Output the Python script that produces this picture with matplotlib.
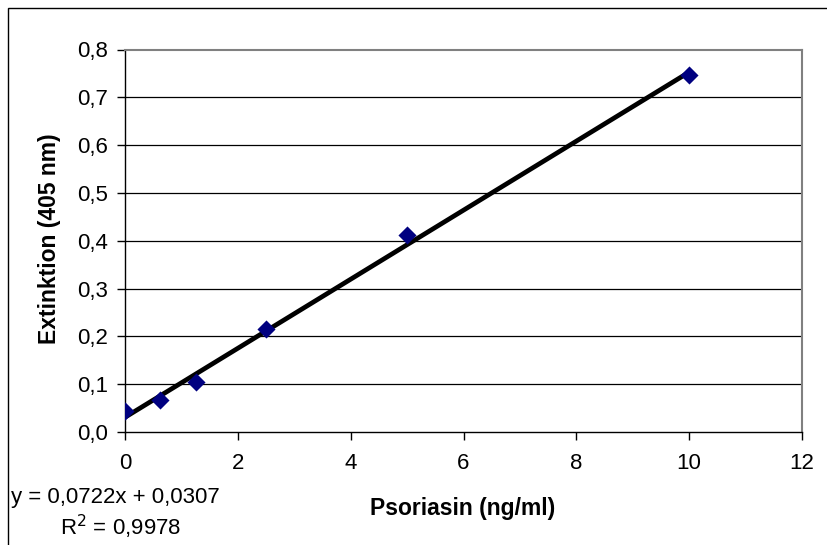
import matplotlib
matplotlib.use("Agg")
import matplotlib.pyplot as plt
from matplotlib.patches import Rectangle
import numpy as np

plt.rcParams['font.family'] = ['Liberation Sans', 'DejaVu Sans']

conc = [0, 0.625, 1.25, 2.5, 5, 10]
extinction = [0.043, 0.066, 0.104, 0.216, 0.411, 0.746]
slope = 0.0722
intercept = 0.0307
eq_text = "y = 0,0722x + 0,0307"
r2_text = "R$^2$ = 0,9978"
xticks = [0, 2, 4, 6, 8, 10, 12]
yticks = [0.0, 0.1, 0.2, 0.3, 0.4, 0.5, 0.6, 0.7, 0.8]
ytick_labels = ["0,0", "0,1", "0,2", "0,3", "0,4", "0,5", "0,6", "0,7", "0,8"]

W, H = 827, 545
fig = plt.figure(figsize=(W / 100, H / 100), dpi=100)
fig.patch.set_facecolor('white')

# outer chart frame (top and left edges visible)
fig.patches.append(Rectangle((8 / W, -0.1), 1.2, 1 - 8 / H + 0.1, transform=fig.transFigure,
                             fill=False, edgecolor='black', linewidth=1.0))

ax = fig.add_axes([125 / W, 1 - 432 / H, (802 - 125) / W, (432 - 49.5) / H])
ax.set_xlim(0, 12)
ax.set_ylim(0, 0.8)

for y in yticks[1:-1]:
    ax.axhline(y, color='black', linewidth=0.9, zorder=1)

xfit = np.array([min(conc), max(conc)])
ax.plot(xfit, slope * xfit + intercept, color='black', linewidth=3.4, zorder=2,
        solid_capstyle='butt')
ax.scatter(conc, extinction, marker='D', s=85, color='#000080', zorder=3, linewidths=0)

ax.set_xticks(xticks)
ax.set_xticklabels([str(t) for t in xticks])
ax.set_yticks(yticks)
ax.set_yticklabels(ytick_labels)
ax.tick_params(axis='both', direction='out', length=6, width=1, colors='black',
               labelsize=16)
ax.tick_params(axis='x', pad=9)
ax.tick_params(axis='y', pad=6)

for s in ['top', 'right']:
    ax.spines[s].set_color('#808080')
    ax.spines[s].set_linewidth(1.5)
for s in ['left', 'bottom']:
    ax.spines[s].set_color('black')
    ax.spines[s].set_linewidth(1.0)

fig.text(463 / W, 1 - 508 / H, "Psoriasin (ng/ml)", ha='center', va='center',
         fontsize=16.5, fontweight='bold')
fig.text(50 / W, 1 - 239 / H, "Extinktion (405 nm)", ha='center', va='center',
         rotation=90, fontsize=16.5, fontweight='bold')
fig.text(11 / W, 1 - 497 / H, eq_text, ha='left', va='center', fontsize=16)
fig.text(60 / W, 1 - 527 / H, r2_text, ha='left', va='center', fontsize=16)

fig.savefig('out.png', dpi=100)
